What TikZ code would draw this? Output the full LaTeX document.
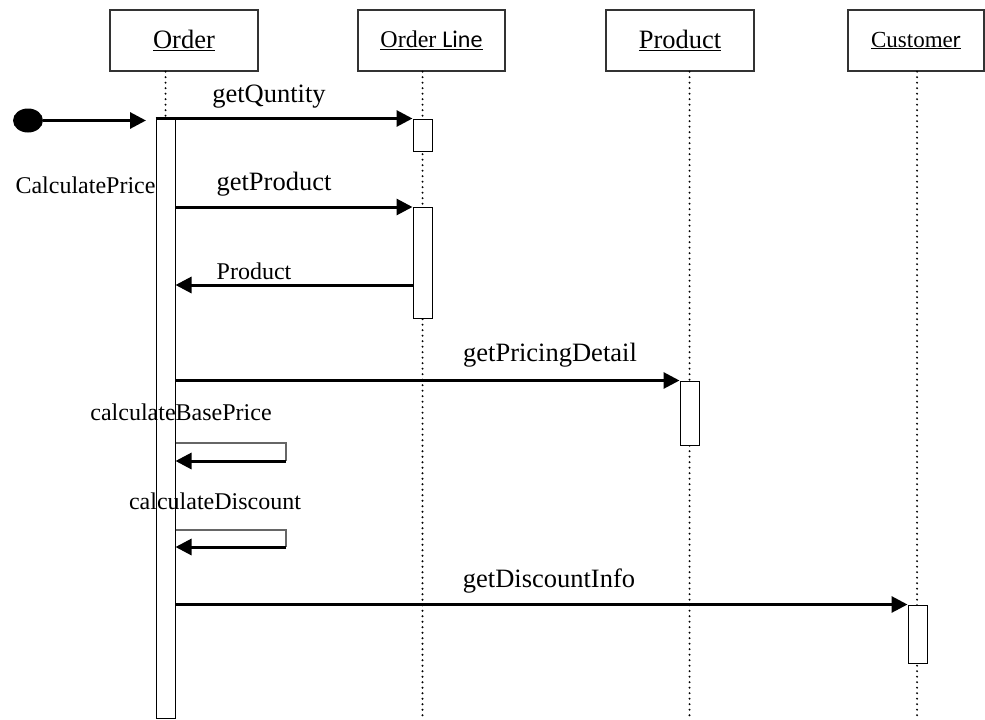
\documentclass[tikz,border=0pt]{standalone}
\usepackage{fontspec}
\setmainfont{Liberation Serif}
\newfontfamily\carlito{Carlito}
\usetikzlibrary{arrows.meta,shapes.geometric}
\tikzset{
  head/.style={draw=black!80,line width=1.3pt,rectangle,inner sep=0pt,minimum height=61pt},
  actbox/.style={draw=black,line width=1pt,fill=white,rectangle,inner sep=0pt,minimum width=19pt},
  life/.style={line width=2.2pt,line cap=round,dash pattern=on 0pt off 5.5pt,black},
  msg/.style={line width=3pt,-{Triangle[length=16pt,width=16pt]}},
  loopline/.style={line width=1.3pt,draw=black!60},
  big/.style={font=\fontsize{26.5}{30}\selectfont},
  small/.style={font=\fontsize{24}{28}\selectfont},
}
\begin{document}
\begin{tikzpicture}[x=1pt,y=-1pt]
\useasboundingbox (0,0) rectangle (985,720);
% heads
\node[head,big,minimum width=148pt] (hOrder) at (184,40.5) {\underline{Order}};
\node[head,minimum width=147pt,font=\fontsize{24}{28}\selectfont] (hOL) at (431.5,40.5) {\underline{Order {\carlito Line}}};
\node[head,big,minimum width=148pt] (hProd) at (680,40.5) {\underline{Product}};
\node[head,minimum width=136pt,font=\fontsize{23}{26}\selectfont] (hCust) at (916,40.5) {\underline{Custome{\carlito r}}};
% lifeline ends
\coordinate (eOrder) at (165.5,119);
\coordinate (eOL) at (422.5,718);
\coordinate (eProd) at (689.5,717);
\coordinate (eCust) at (917,718);
\draw[life] (hOrder.south -| eOrder) -- (eOrder);
\draw[life] (hOL.south -| eOL) -- (eOL);
\draw[life] (hProd.south -| eProd) -- (eProd);
\draw[life] (hCust.south -| eCust) -- (eCust);
% activations
\node[actbox,minimum height=599pt] (aOrder) at (165.5,418.5) {};
\node[actbox,minimum height=32pt] (aOL1) at (422.5,135) {};
\node[actbox,minimum height=111pt] (aOL2) at (422.5,263) {};
\node[actbox,minimum height=64pt] (aProd) at (689.5,413) {};
\node[actbox,minimum height=58pt] (aCust) at (917.5,634) {};
% start
\node[ellipse,fill=black,minimum width=30pt,minimum height=24pt,inner sep=0pt] (start) at (28,120.5) {};
\coordinate (startEnd) at (146,120.5);
\draw[msg] (start.east) -- (startEnd);
\node[small,anchor=west] (lCalc) at (12,185) {CalculatePrice};
% getQuntity
\draw[msg] (aOrder.north west) -- (aOL1.north west);
\node[big] (lQ) at (269,97) {getQuntity};
% getProduct
\draw[msg] (aOrder.east |- aOL2.north) -- (aOL2.north west);
\node[big] (lP) at (274,184) {getProduct};
% Product return
\coordinate (rY) at (0,285);
\draw[msg] (aOL2.west |- rY) -- (aOrder.east |- rY);
\node[small] (lR) at (254,271) {Product};
% getPricingDetail
\draw[msg] (aOrder.east |- aProd.north) -- (aProd.north west);
\node[big] (lPD) at (550,355) {getPricingDetail};
% calculateBasePrice
\coordinate (b1) at (286,443);
\coordinate (b2) at (286,461);
\draw[loopline] (aOrder.east |- b1) -- (b1) -- (b2);
\draw[msg] (b2) -- (aOrder.east |- b2);
\node[small] (lB) at (181,412) {calculateBasePrice};
% calculateDiscount
\coordinate (d1) at (286,530);
\coordinate (d2) at (286,547);
\draw[loopline] (aOrder.east |- d1) -- (d1) -- (d2);
\draw[msg] (d2) -- (aOrder.east |- d2);
\node[small] (lD) at (215,501) {calculateDiscount};
% getDiscountInfo
\draw[msg] (aOrder.east |- aCust.north) -- (aCust.north west);
\node[big] (lDI) at (549,581) {getDiscountInfo};
\end{tikzpicture}
\end{document}
